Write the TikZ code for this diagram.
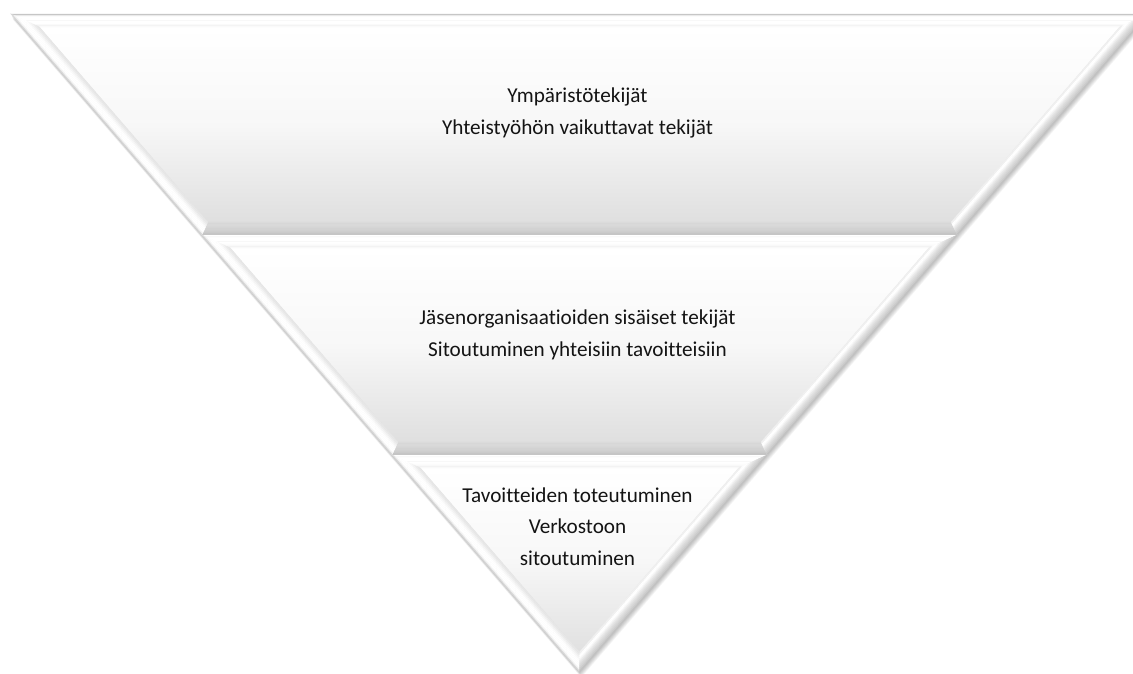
\documentclass[tikz,border=0pt]{standalone}
\usepackage{fontspec}
\setmainfont[Ligatures=NoCommon]{Carlito}
\usetikzlibrary{calc}

% Fill the band between an outer edge (#1 -> #3) and an inner edge (#2 -> #4)
% with ten parallel strips, coloured outer to inner by the list macro #5.
\newcommand\bevelstrips[5]{%
  \foreach \bc [count=\bi] in #5 {%
    \pgfmathsetmacro\fa{(\bi-1)/10}%
    \pgfmathsetmacro\fb{\bi/10}%
    \fill[color=\bc, line width=0.35pt]
      ($(#1)!\fa!(#2)$) -- ($(#1)!\fb!(#2)$) -- ($(#3)!\fb!(#4)$) -- ($(#3)!\fa!(#4)$) -- cycle;
    \draw[color=\bc, line width=0.35pt]
      ($(#1)!\fa!(#2)$) -- ($(#1)!\fb!(#2)$) -- ($(#3)!\fb!(#4)$) -- ($(#3)!\fa!(#4)$) -- cycle;
  }%
}

\tikzset{
  lbl/.style={anchor=base, inner sep=0pt, font=\fontsize{21.2}{25}\selectfont, text=black!92},
  face/.style={top color=white, bottom color=gray!25, middle color=gray!6},
  lastface/.style={top color=white, bottom color=gray!24, middle color=gray!6},
}

\def\topfirst{gray!45, gray!12, white, white, white, white, white, white, gray!2, gray!4}
\def\topnext{white, white, white, white, white, white, white, gray!2, gray!3, gray!5}
\def\leftside{gray!30, gray!8, white, white, white, white, gray!4, gray!9, gray!14, gray!19}
\def\rightside{gray!48, gray!40, gray!34, gray!28, gray!22, gray!15, gray!6, white, white, gray!12}
\def\bottomside{gray!52, gray!44, gray!40, gray!37, gray!35, gray!33, gray!31, gray!30, gray!29, gray!28}

\begin{document}
\begin{tikzpicture}[x=1pt, y=-1pt]
  \useasboundingbox (0,0) rectangle (1133,673);
  \clip (0,0) rectangle (1133,673);

  % soft shadow under the whole funnel
  \foreach \k in {1,...,6}
    \fill[black, opacity=0.045, shift={(0.3*\k,0.9*\k)}]
      (11,14) -- (1148,14) -- (579.5,672) -- cycle;

  % ---------- band 1 ----------
  \coordinate (aOTL) at (11,14);      \coordinate (aITL) at (39.4,27);
  \coordinate (aOBL) at (201.9,235);  \coordinate (aIBL) at (207.8,222);
  \coordinate (aOTR) at (1148,14);    \coordinate (aITR) at (1119.6,27);
  \coordinate (aOBR) at (957.1,235);  \coordinate (aIBR) at (951.2,222);
  \shade[face] (aITL) -- (aITR) -- (aIBR) -- (aIBL) -- cycle;
  \bevelstrips{aOTL}{aITL}{aOTR}{aITR}{\topfirst}
  \bevelstrips{aOBL}{aIBL}{aOBR}{aIBR}{\bottomside}
  \bevelstrips{aOTL}{aITL}{aOBL}{aIBL}{\leftside}
  \bevelstrips{aOTR}{aITR}{aOBR}{aIBR}{\rightside}

  % ---------- band 2 ----------
  \coordinate (bOTL) at (201.9,235);  \coordinate (bITL) at (230.3,248);
  \coordinate (bOBL) at (392.0,455);  \coordinate (bIBL) at (397.9,442);
  \coordinate (bOTR) at (957.1,235);  \coordinate (bITR) at (928.7,248);
  \coordinate (bOBR) at (767.0,455);  \coordinate (bIBR) at (761.1,442);
  \shade[face] (bITL) -- (bITR) -- (bIBR) -- (bIBL) -- cycle;
  \bevelstrips{bOTL}{bITL}{bOTR}{bITR}{\topnext}
  \bevelstrips{bOBL}{bIBL}{bOBR}{bIBR}{\bottomside}
  \bevelstrips{bOTL}{bITL}{bOBL}{bIBL}{\leftside}
  \bevelstrips{bOTR}{bITR}{bOBR}{bIBR}{\rightside}

  % ---------- band 3 (tip) ----------
  \coordinate (cOTL) at (392.0,455);  \coordinate (cITL) at (420.4,468);
  \coordinate (cOTR) at (767.0,455);  \coordinate (cITR) at (738.6,468);
  \coordinate (cOA) at (579.5,672);   \coordinate (cIA) at (579.5,652.1);
  \shade[lastface] (cITL) -- (cITR) -- (cIA) -- cycle;
  \bevelstrips{cOTL}{cITL}{cOTR}{cITR}{\topnext}
  \bevelstrips{cOTL}{cITL}{cOA}{cIA}{\leftside}
  \bevelstrips{cOTR}{cITR}{cOA}{cIA}{\rightside}

  % ---------- labels ----------
  \node[lbl] (t1a) at (577.5,102) {Ympäristötekijät};
  \node[lbl] (t1b) at (577.5,134) {Yhteistyöhön vaikuttavat tekijät};
  \node[lbl] (t2a) at (577.5,324) {Jäsenorganisaatioiden sisäiset tekijät};
  \node[lbl] (t2b) at (577.5,356) {Sitoutuminen yhteisiin tavoitteisiin};
  \node[lbl] (t3a) at (577.5,502) {Tavoitteiden toteutuminen};
  \node[lbl] (t3b) at (577.5,533) {Verkostoon};
  \node[lbl] (t3c) at (577.5,565) {sitoutuminen};
\end{tikzpicture}
\end{document}
